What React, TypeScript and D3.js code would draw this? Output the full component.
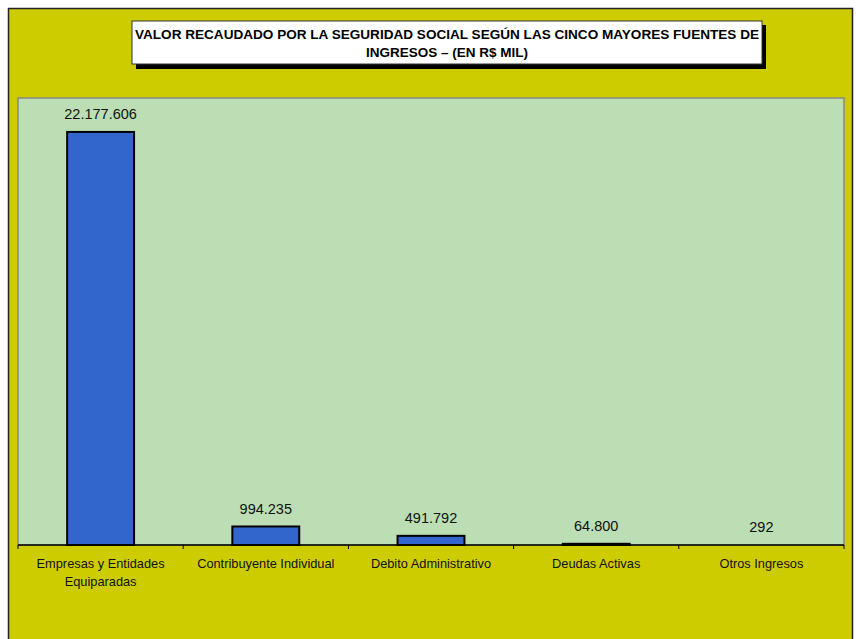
import React from "react";
import * as d3 from "d3";

const categories: string[][] = [
  ["Empresas y Entidades", "Equiparadas"],
  ["Contribuyente Individual"],
  ["Debito Administrativo"],
  ["Deudas Activas"],
  ["Otros Ingresos"],
];
const values: number[] = [22177606, 994235, 491792, 64800, 292];
const valueLabels: string[] = ["22.177.606", "994.235", "491.792", "64.800", "292"];
const titleLines: string[] = [
  "VALOR RECAUDADO POR LA SEGURIDAD SOCIAL SEGÚN LAS CINCO MAYORES FUENTES DE",
  "INGRESOS – (EN R$ MIL)",
];
const yMax = 24000000;

export default function App() {
  const W = 856;
  const H = 639;
  const plot = { x0: 18, x1: 844, y0: 98, y1: 545 };
  const ids = categories.map((_, i) => String(i));
  const x = d3.scaleBand<string>().domain(ids).range([plot.x0, plot.x1]).paddingInner(0.595).paddingOuter(0.2975);
  const xb = d3.scaleBand<string>().domain(ids).range([plot.x0, plot.x1]);
  const y = d3.scaleLinear().domain([0, yMax]).range([plot.y1, plot.y0]);
  const font = "Arial, 'Liberation Sans', sans-serif";
  return (
    <svg width={W} height={H} style={{ position: "absolute", left: 0, top: 0 }} fontFamily={font}>
      <rect x={0} y={0} width={W} height={H} fill="#ffffff" />
      <rect x={8.5} y={8.5} width={844} height={700} fill="#CCCC00" stroke="#222222" strokeWidth={1.5} />
      {/* title box */}
      <rect x={136} y={25} width={630} height={44} fill="#000000" />
      <rect x={132} y={21} width={630} height={43} fill="#ffffff" stroke="#333333" strokeWidth={1} />
      <text x={447} y={39} textAnchor="middle" fontSize={13.5} fontWeight="bold" fill="#000" textLength={624} lengthAdjust="spacingAndGlyphs">
        {titleLines[0]}
      </text>
      <text x={447} y={56.5} textAnchor="middle" fontSize={13.5} fontWeight="bold" fill="#000">
        {titleLines[1]}
      </text>
      {/* plot area */}
      <rect x={plot.x0} y={plot.y0} width={plot.x1 - plot.x0} height={plot.y1 - plot.y0} fill="#BCDEB4" stroke="#888888" strokeWidth={1.5} />
      {values.map((v, i) => {
        const bx = x(String(i))!;
        const by = y(v);
        const h = plot.y1 - by;
        return (
          <g key={i}>
            {h >= 0.5 && (
              <rect x={bx} y={by} width={x.bandwidth()} height={h} fill="#3366CC" stroke="#000" strokeWidth={2} />
            )}
            <text x={bx + x.bandwidth() / 2} y={by - 12.5} textAnchor="middle" fontSize={14.5} fill="#111">
              {valueLabels[i]}
            </text>
          </g>
        );
      })}
      {/* axis */}
      <line x1={plot.x0} x2={plot.x1} y1={plot.y1} y2={plot.y1} stroke="#000" strokeWidth={1.5} />
      {ids.concat(["end"]).map((id, i) => {
        const tx = i < ids.length ? xb(id)! : plot.x1;
        return <line key={i} x1={tx} x2={tx} y1={plot.y1} y2={plot.y1 + 4} stroke="#000" strokeWidth={1} />;
      })}
      {categories.map((lines, i) => (
        <text key={i} textAnchor="middle" fontSize={12.8} fill="#111">
          {lines.map((l, j) => (
            <tspan key={j} x={xb(String(i))! + xb.bandwidth() / 2} y={568 + j * 18}>
              {l}
            </tspan>
          ))}
        </text>
      ))}
    </svg>
  );
}
